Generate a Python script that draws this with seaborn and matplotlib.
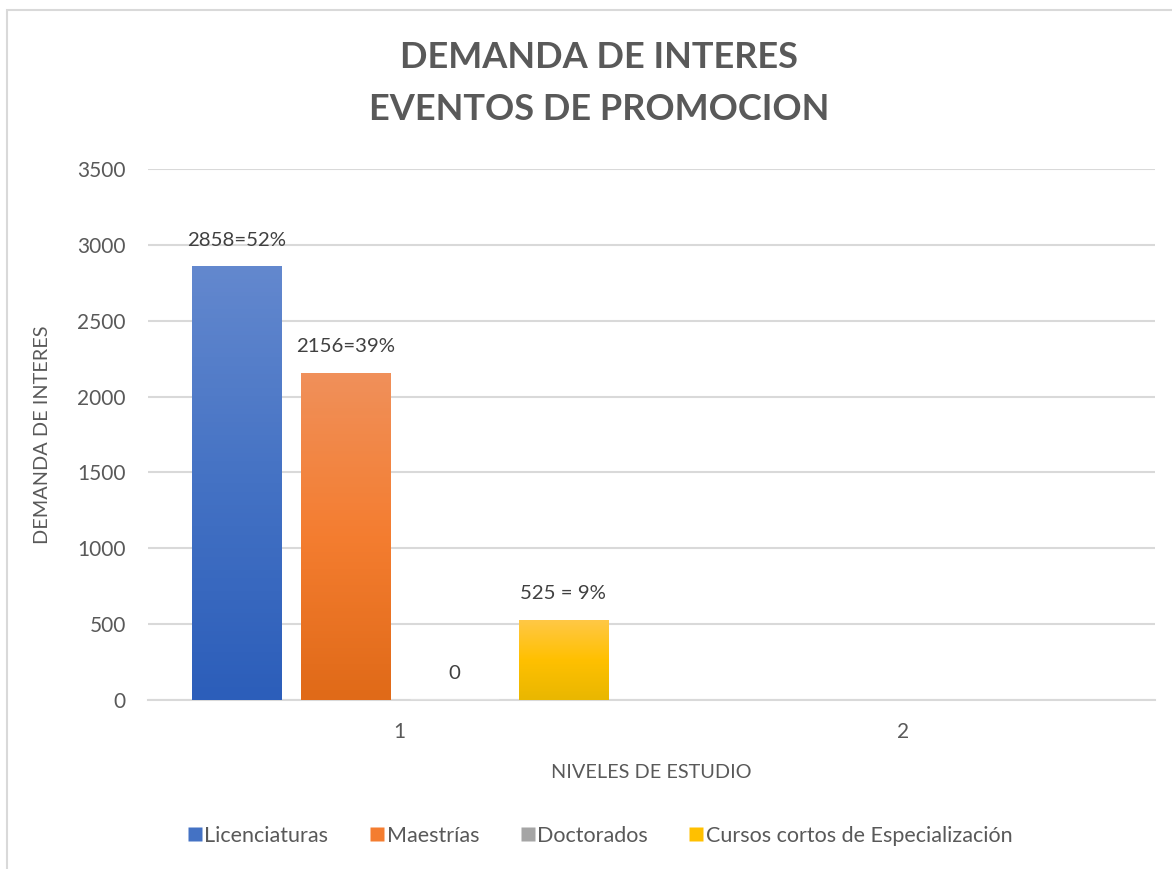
import numpy as np
import pandas as pd
import seaborn as sns
import matplotlib.pyplot as plt
from matplotlib.colors import LinearSegmentedColormap
from matplotlib.patches import Rectangle
from matplotlib.lines import Line2D

# Datos
niveles = ["1", "2"]
series = ["Licenciaturas", "Maestrías", "Doctorados", "Cursos cortos de Especialización"]
valores_1 = [2858, 2156, 0, 525]
valores_2 = [np.nan, np.nan, np.nan, np.nan]
etiquetas = ["2858=52%", "2156=39%", "0", "525 = 9%"]
yticks = [0, 500, 1000, 1500, 2000, 2500, 3000, 3500]

# Colores (arriba, medio, abajo) para el degradado
colores = {
    "Licenciaturas": ("#6388CE", "#4472C4", "#2C5EBA"),
    "Maestrías": ("#F0905A", "#F47D30", "#E06A18"),
    "Doctorados": ("#B8B8B8", "#A5A5A5", "#939393"),
    "Cursos cortos de Especialización": ("#FFC845", "#FFC000", "#E9B700"),
}

df = pd.DataFrame({
    "nivel": ["1"] * 4 + ["2"] * 4,
    "serie": series * 2,
    "demanda": valores_1 + valores_2,
})

sns.set_theme(style="white")
plt.rcParams["font.family"] = ["Lato", "DejaVu Sans"]

fig = plt.figure(figsize=(11.72, 8.69), dpi=100)
ax = fig.add_axes([148 / 1172, 1 - 700 / 869, (1155 - 148) / 1172, (700 - 169) / 869])

sns.barplot(data=df.dropna(), x="nivel", y="demanda", hue="serie", order=niveles,
            hue_order=series, palette={s: c[1] for s, c in colores.items()},
            width=0.866, gap=0.18, legend=False, errorbar=None, ax=ax, zorder=3)

ax.set_xlim(-0.5, 1.5)
ax.set_ylim(0, 3500)
ax.set_yticks(yticks)
ax.yaxis.grid(True, color="#D9D9D9", linewidth=1.5, zorder=0)
ax.set_axisbelow(True)
for s in ["top", "right", "left"]:
    ax.spines[s].set_visible(False)
ax.spines["bottom"].set_color("#D9D9D9")
ax.spines["bottom"].set_linewidth(1.5)
ax.tick_params(axis="both", length=0, labelsize=15, labelcolor="#595959")
ax.tick_params(axis="y", pad=16)
ax.tick_params(axis="x", pad=16)

ax.set_xlabel("NIVELES DE ESTUDIO", fontsize=14.3, color="#595959", labelpad=16)
ax.set_ylabel("DEMANDA DE INTERES", fontsize=14.3, color="#595959", labelpad=19)

# Degradado vertical + etiquetas
for cont, serie, etq in zip(ax.containers, series, etiquetas):
    cmap = LinearSegmentedColormap.from_list(serie, list(colores[serie])[::-1])
    for bar in cont:
        x0, w, h = bar.get_x(), bar.get_width(), bar.get_height()
        if np.isnan(h):
            continue
        if h > 0:
            grad = np.linspace(1, 0, 100).reshape(-1, 1)
            im = ax.imshow(grad, cmap=cmap, aspect="auto", extent=[x0, x0 + w, 0, h],
                           zorder=3.5, vmin=0, vmax=1)
            im.set_clip_path(bar)
            bar.set_edgecolor("none")
        ax.annotate(etq, (x0 + w / 2, h), xytext=(0, 19), textcoords="offset points",
                    ha="center", va="center", fontsize=14.7, color="#404040", zorder=5)

ax.set_xlim(-0.5, 1.5)
ax.set_ylim(0, 3500)

fig.text(599 / 1172, 1 - 58 / 869, "DEMANDA DE INTERES", ha="center", va="center",
         fontsize=26, fontweight="bold", color="#595959")
fig.text(599 / 1172, 1 - 110 / 869, "EVENTOS DE PROMOCION", ha="center", va="center",
         fontsize=26, fontweight="bold", color="#595959")

handles = [Line2D([], [], marker="s", linestyle="none", markersize=10,
                  markerfacecolor=colores[s][1], markeredgecolor="none") for s in series]
leg = fig.legend(handles, series, loc="center", bbox_to_anchor=(600 / 1172, 1 - 836 / 869),
                 ncol=4, frameon=False, fontsize=15.5, handletextpad=0.1, columnspacing=1.9,
                 handlelength=0.7)
for t in leg.get_texts():
    t.set_color("#595959")

# Borde del gráfico
fig.patches.append(Rectangle((7 / 1172, -0.05), 1.2, 1 - 10 / 869 + 0.05,
                             transform=fig.transFigure, fill=False,
                             edgecolor="#D9D9D9", linewidth=1.5))

fig.savefig("out.png", dpi=100)
